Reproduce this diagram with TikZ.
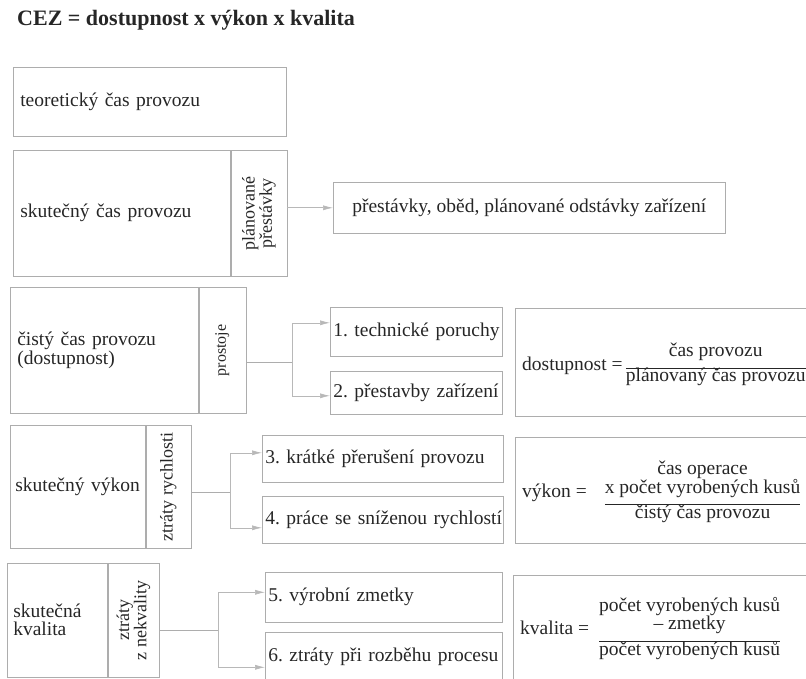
\documentclass[tikz,border=0pt]{standalone}
\usepackage{fontspec}
\setmainfont{Liberation Serif}
\usepackage{tikz}
\usetikzlibrary{arrows.meta,positioning}
\definecolor{textc}{gray}{0.15}
\definecolor{linec}{gray}{0.68}
\definecolor{arrc}{gray}{0.72}
\setlength{\arrayrulewidth}{0.8pt}
\frenchspacing
\newcommand{\ratio}[2]{\begin{tabular}[c]{@{}c@{}}#1\\[6pt]\hline #2\end{tabular}}

\begin{document}
\begin{tikzpicture}[x=1pt, y=-1pt,
    font=\fontsize{19.5}{16.5}\selectfont,
    frame/.style={draw=linec, line width=0.6pt, text=textc},
    cell/.style={frame, anchor=north west, inner xsep=7pt, inner ysep=0pt, align=left},
    loss/.style={cell, inner xsep=3pt},
    side/.style={frame, rotate=90, anchor=north, inner sep=0pt, align=center,
      font=\fontsize{18}{14.5}\selectfont},
    link/.style={draw=linec, line width=0.6pt},
    conn/.style={draw=arrc, line width=0.6pt, -{Latex[length=10pt,width=5pt]}}]
  \useasboundingbox (0,0) rectangle (806,679);
  \clip (0,0) rectangle (806,679);

  \node[anchor=base west, inner sep=0pt, text=textc,
    font=\bfseries\fontsize{22}{24}\selectfont] (title) at (17,26) {CEZ = dostupnost x výkon x kvalita};

  \node[cell, text width=259pt, minimum height=69pt] (teor) at (13,67) {teoretický čas provozu};

  \node[cell, text width=203pt, minimum height=126pt] (skut) at (13,150) {skutečný čas provozu};
  \node[side, minimum width=126pt, minimum height=56pt] (plan) at (skut.east) {plánované\\přestávky};
  \node[cell, align=center, minimum width=392pt, minimum height=51pt] (pause) at (333,182)
    {přestávky, oběd, plánované odstávky zařízení};

  \node[cell, text width=174pt, minimum height=126pt] (cist) at (10,287) {čistý čas provozu\\(dostupnost)};
  \node[side, minimum width=126pt, minimum height=47pt, font=\fontsize{16}{14}\selectfont] (prost) at (cist.east) {prostoje};
  \node[loss, text width=166pt, minimum height=49pt] (tech) at (330,307) {\mbox{1. technické poruchy}};
  \node[loss, text width=166pt, minimum height=43pt] (rebuild) at (330,371) {\mbox{2. přestavby zařízení}};
  \node[cell, minimum width=330pt, minimum height=108pt] (dost) at (515,308) {};

  \node[cell, text width=125pt, minimum height=123pt, inner xsep=5pt] (vyk) at (10,425) {\mbox{skutečný výkon}};
  \node[side, minimum width=123pt, minimum height=45pt] (speed) at (vyk.east) {ztráty rychlosti};
  \node[loss, text width=235pt, minimum height=47pt] (stop) at (262,435) {\mbox{3. krátké přerušení provozu}};
  \node[loss, text width=235pt, minimum height=47pt] (slow) at (262,496) {\mbox{4. práce se sníženou rychlostí}};
  \node[cell, minimum width=330pt, minimum height=106pt] (vbox) at (515,437) {};

  \node[cell, text width=88pt, minimum height=114pt, inner xsep=6pt,
    font=\fontsize{19.5}{18}\selectfont] (kval) at (7,563) {skutečná\\kvalita};
  \node[side, minimum width=114pt, minimum height=51pt] (nekv) at (kval.east) {ztráty\\z nekvality};
  \node[loss, text width=231pt, minimum height=50pt] (scrap) at (265,572) {\mbox{5. výrobní zmetky}};
  \node[loss, text width=231pt, minimum height=50pt] (startup) at (265,632) {\mbox{6. ztráty při rozběhu procesu}};
  \node[cell, minimum width=330pt, minimum height=120pt] (kbox) at (513,575) {};

  \node[anchor=west, inner sep=0pt, text=textc] (fdost) at (522,365)
    {dostupnost =\,\ratio{čas provozu}{plánovaný čas provozu}};
  \node[anchor=west, inner sep=0pt, text=textc] (fvyk) at (522,492)
    {výkon =\hspace{18pt}\ratio{čas operace\\x počet vyrobených kusů}{čistý čas provozu}};
  \node[anchor=west, inner sep=0pt, text=textc] (fkval) at (520,629)
    {kvalita =\hspace{10pt}\ratio{počet vyrobených kusů\\– zmetky}{počet vyrobených kusů}};

  \coordinate (br3) at (292,362);
  \coordinate (br4) at (230,492);
  \coordinate (br5) at (218,630);
  \draw[conn] (plan.south |- pause.west) -- (pause.west);
  \draw[link] (prost.south |- br3) -- (br3);
  \draw[conn] (br3) |- ([yshift=9pt]tech.west);
  \draw[conn] (br3) |- ([yshift=-3pt]rebuild.west);
  \draw[link] (speed.south |- br4) -- (br4);
  \draw[conn] (br4) |- ([yshift=6pt]stop.west);
  \draw[conn] (br4) |- ([yshift=-8pt]slow.west);
  \draw[link] (nekv.south |- br5) -- (br5);
  \draw[conn] (br5) |- ([yshift=5pt]scrap.west);
  \draw[conn] (br5) |- ([yshift=-10pt]startup.west);
\end{tikzpicture}
\end{document}
